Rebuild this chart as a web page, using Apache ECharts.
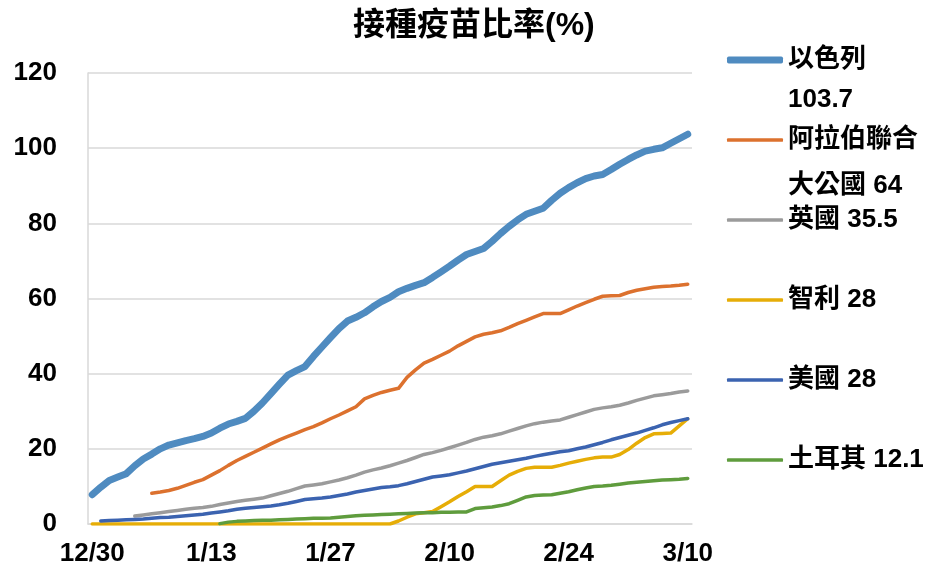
<!DOCTYPE html>
<html>
<head>
<meta charset="utf-8">
<script src="https://cdn.jsdelivr.net/npm/echarts@6/dist/echarts.min.js"></script>
<style>
  html, body { margin: 0; padding: 0; background: #fff; }
  #chart { width: 925px; height: 568px; }
</style>
</head>
<body>
<div id="chart"></div>
<script>
// 日期 12/30 ~ 3/10
const dates = [
  '12/30', '12/31',
  '1/1', '1/2', '1/3', '1/4', '1/5', '1/6', '1/7', '1/8', '1/9', '1/10',
  '1/11', '1/12', '1/13', '1/14', '1/15', '1/16', '1/17', '1/18', '1/19', '1/20',
  '1/21', '1/22', '1/23', '1/24', '1/25', '1/26', '1/27', '1/28', '1/29', '1/30', '1/31',
  '2/1', '2/2', '2/3', '2/4', '2/5', '2/6', '2/7', '2/8', '2/9', '2/10',
  '2/11', '2/12', '2/13', '2/14', '2/15', '2/16', '2/17', '2/18', '2/19', '2/20',
  '2/21', '2/22', '2/23', '2/24', '2/25', '2/26', '2/27', '2/28',
  '3/1', '3/2', '3/3', '3/4', '3/5', '3/6', '3/7', '3/8', '3/9', '3/10'
];

const seriesNames = ['以色列', '阿拉伯聯合大公國', '英國', '智利', '美國', '土耳其'];
// 圖例文字（含最新數值），第一行空白讓名稱對齊線條
const legendText = ['\n以色列\n103.7', '\n阿拉伯聯合\n大公國 64', '英國 35.5', '智利 28', '美國 28', '土耳其 12.1'];

const israel = [
  7.8, 9.8, 11.6, 12.5, 13.4, 15.5, 17.3, 18.6, 20.0, 21.0,
  21.6, 22.2, 22.7, 23.3, 24.2, 25.5, 26.6, 27.3, 28.1, 30.0,
  32.2, 34.7, 37.2, 39.6, 40.8, 41.9, 44.6, 47.1, 49.6, 52.0,
  54.0, 55.0, 56.2, 57.8, 59.2, 60.3, 61.8, 62.7, 63.5, 64.2,
  65.6, 67.1, 68.6, 70.2, 71.7, 72.5, 73.3, 75.2, 77.3, 79.2,
  80.9, 82.4, 83.2, 84.0, 86.1, 88.0, 89.5, 90.8, 91.9, 92.6,
  93.0, 94.3, 95.7, 97.0, 98.2, 99.2, 99.7, 100.1, 101.3, 102.5,
  103.7
];
const uae = [
  null, null, null, null, null, null, null, 8.2, 8.5, 8.9,
  9.5, 10.3, 11.1, 11.8, 13.0, 14.2, 15.6, 16.9, 18.0, 19.1,
  20.2, 21.3, 22.4, 23.3, 24.2, 25.1, 25.9, 26.9, 28.0, 29.0,
  30.1, 31.2, 33.3, 34.2, 35.0, 35.6, 36.1, 39.0, 41.0, 42.8,
  43.8, 44.9, 46.0, 47.4, 48.6, 49.8, 50.5, 50.9, 51.4, 52.3,
  53.3, 54.2, 55.1, 56.0, 56.0, 56.0, 57.0, 58.0, 58.9, 59.8,
  60.6, 60.7, 60.8, 61.6, 62.2, 62.6, 63.0, 63.2, 63.3, 63.5,
  63.8
];
const uk = [
  null, null, null, null, null, 2.1, 2.4, 2.7, 3.0, 3.3,
  3.6, 3.9, 4.2, 4.4, 4.7, 5.2, 5.6, 6.0, 6.3, 6.6,
  6.9, 7.5, 8.1, 8.7, 9.4, 10.1, 10.4, 10.7, 11.2, 11.7,
  12.3, 13.0, 13.8, 14.4, 14.9, 15.5, 16.2, 16.9, 17.7, 18.5,
  19.0, 19.6, 20.3, 21.0, 21.7, 22.5, 23.1, 23.5, 24.0, 24.7,
  25.4, 26.1, 26.7, 27.1, 27.4, 27.7, 28.4, 29.1, 29.8, 30.5,
  30.9, 31.2, 31.6, 32.2, 32.9, 33.5, 34.1, 34.4, 34.7, 35.1,
  35.4
];
const chile = [
  0, 0, 0, 0, 0, 0, 0, 0, 0, 0,
  0, 0, 0, 0, 0, 0, 0, 0, 0, 0,
  0, 0, 0, 0, 0, 0, 0, 0, 0, 0,
  0, 0, 0, 0, 0, 0, 0.8, 1.8, 2.7, 3.0,
  3.3, 4.6, 5.9, 7.3, 8.6, 10.0, 10.0, 10.0, 11.5, 13.0,
  14.0, 14.8, 15.1, 15.1, 15.1, 15.6, 16.2, 16.7, 17.2, 17.6,
  17.8, 17.8, 18.5, 19.8, 21.5, 23.0, 24.0, 24.1, 24.2, 26.1,
  28.0
];
const usa = [
  null, 0.8, 0.9, 1.0, 1.1, 1.2, 1.3, 1.5, 1.7, 1.8,
  2.0, 2.2, 2.4, 2.6, 2.9, 3.2, 3.5, 3.9, 4.2, 4.4,
  4.6, 4.8, 5.1, 5.5, 6.0, 6.5, 6.7, 6.9, 7.2, 7.6,
  8.0, 8.5, 8.9, 9.3, 9.7, 9.9, 10.2, 10.7, 11.3, 11.9,
  12.5, 12.8, 13.1, 13.6, 14.1, 14.7, 15.3, 15.9, 16.3, 16.7,
  17.1, 17.5, 18.0, 18.4, 18.8, 19.2, 19.5, 20.0, 20.5, 21.1,
  21.7, 22.4, 23.0, 23.6, 24.2, 24.9, 25.6, 26.4, 27.0, 27.5,
  28.0
];
const turkey = [
  null, null, null, null, null, null, null, null, null, null,
  null, null, null, null, null, 0.1, 0.5, 0.7, 0.8, 0.9,
  1.0, 1.0, 1.1, 1.2, 1.3, 1.4, 1.5, 1.5, 1.6, 1.8,
  2.0, 2.2, 2.3, 2.4, 2.5, 2.6, 2.7, 2.8, 2.9, 3.0,
  3.0, 3.1, 3.1, 3.2, 3.2, 4.1, 4.3, 4.5, 4.9, 5.4,
  6.3, 7.2, 7.6, 7.7, 7.8, 8.2, 8.6, 9.1, 9.6, 10.0,
  10.1, 10.3, 10.6, 10.9, 11.1, 11.3, 11.5, 11.7, 11.8, 11.9,
  12.1
];

const allData = [israel, uae, uk, chile, usa, turkey];
const colors = ['#4f8bc0', '#dc712e', '#9b9b9b', '#e6ad07', '#3b63b0', '#5f9c3d'];
const widths = [7, 3.5, 3.5, 3.5, 3.5, 3.5];

const fontFamily = "'Liberation Sans', 'Noto Sans CJK TC', sans-serif";

const chart = echarts.init(document.getElementById('chart'));

// 每個圖例項目各自一個 legend，方便控制位置
const legendTops = [0, 71, 205, 285, 365, 445];
const legendLineHeights = [40, 46, 30, 30, 30, 30];
const legends = seriesNames.map((name, i) => ({
  data: [name],
  left: 727,
  top: legendTops[i],
  padding: 0,
  icon: 'roundRect',
  itemWidth: 56,
  itemHeight: widths[i],
  itemStyle: { borderWidth: 0 },
  selectedMode: false,
  formatter: () => legendText[i],
  textStyle: {
    fontSize: 26,
    fontWeight: 'bold',
    color: '#000',
    fontFamily: fontFamily,
    lineHeight: legendLineHeights[i]
  }
}));

const option = {
  animation: false,
  backgroundColor: '#fff',
  title: {
    text: '接種疫苗比率(%)',
    left: 348,
    top: 5,
    textStyle: {
      fontSize: 32,
      fontWeight: 'bold',
      color: '#000',
      fontFamily: fontFamily
    }
  },
  legend: legends,
  grid: {
    left: 88,
    right: 233,
    top: 73,
    bottom: 44,
    containLabel: false
  },
  xAxis: {
    type: 'category',
    data: dates,
    boundaryGap: true,
    axisLine: { show: true, lineStyle: { color: '#d9d9d9', width: 1.5 } },
    axisTick: { show: false },
    axisLabel: {
      interval: 13,
      margin: 17,
      fontSize: 26,
      fontWeight: 'bold',
      color: '#000',
      fontFamily: fontFamily
    }
  },
  yAxis: {
    type: 'value',
    min: 0,
    max: 120,
    interval: 20,
    axisLine: { show: true, lineStyle: { color: '#d9d9d9', width: 1.5 } },
    axisTick: { show: false },
    splitLine: { lineStyle: { color: '#d9d9d9', width: 1.5 } },
    axisLabel: {
      margin: 31,
      fontSize: 26,
      fontWeight: 'bold',
      color: '#000',
      fontFamily: fontFamily
    }
  },
  series: seriesNames.map((name, i) => ({
    name: name,
    type: 'line',
    data: allData[i],
    symbol: 'none',
    connectNulls: false,
    color: colors[i],
    lineStyle: { width: widths[i], color: colors[i], cap: 'round', join: 'round' }
  }))
};

chart.setOption(option);
</script>
</body>
</html>
